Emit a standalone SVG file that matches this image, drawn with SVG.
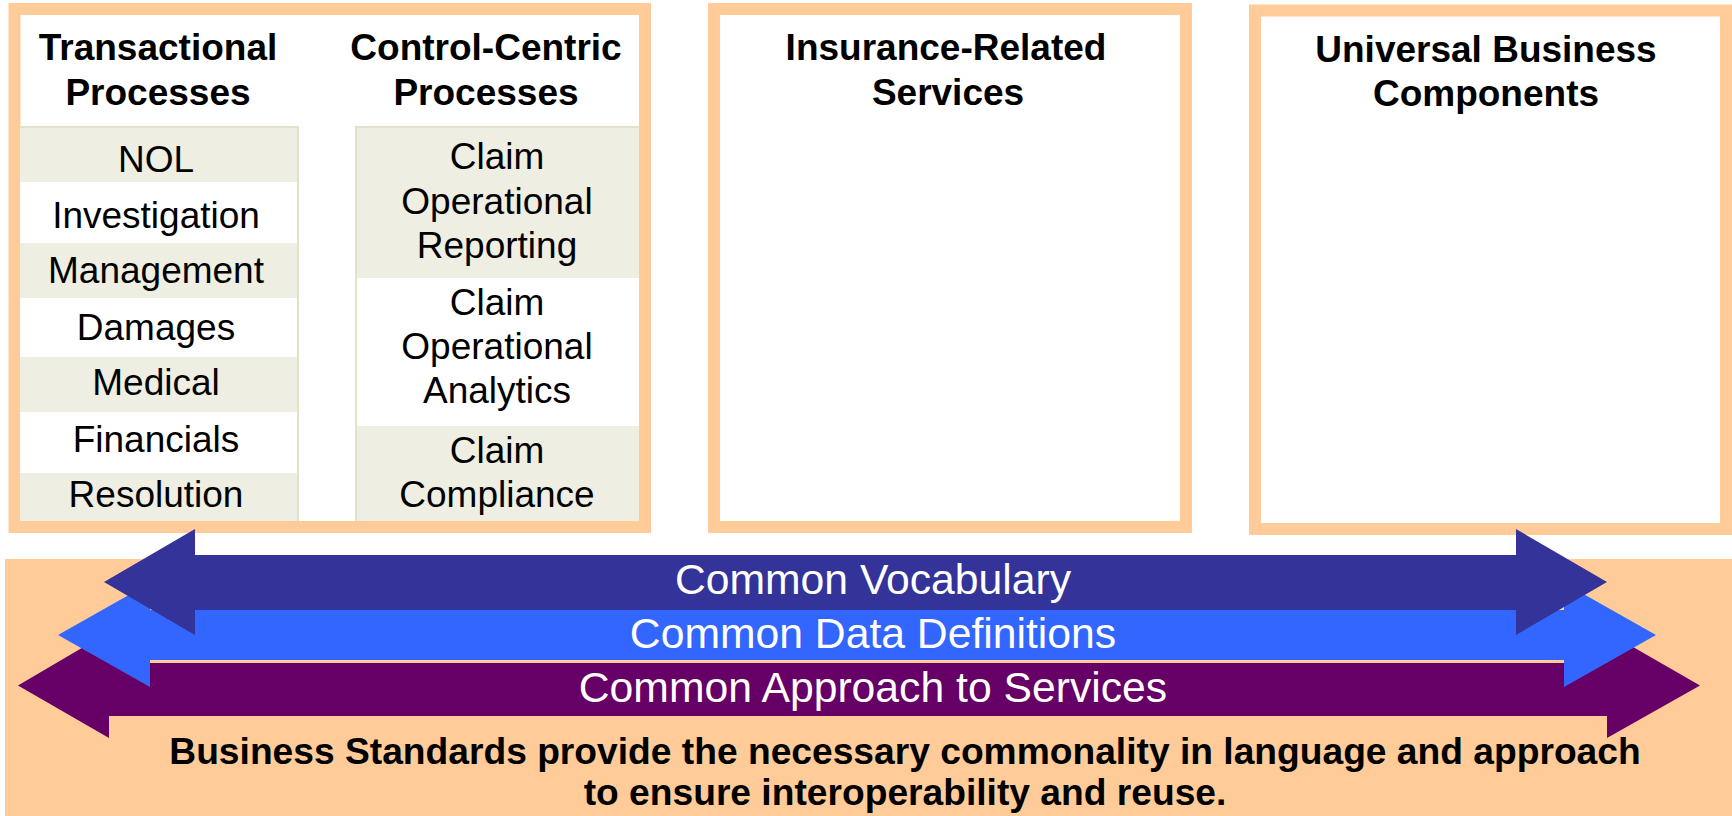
<svg xmlns="http://www.w3.org/2000/svg" width="1732" height="816" viewBox="0 0 1732 816">
<style>
.frame{fill:#FFFFFF;stroke:#FFCC99;stroke-width:12}
.shade{fill:#EEEEE2}
.plain{fill:#FFFFFF}
.edge{stroke:#E2E2CC;stroke-width:2;fill:none}
.hd{font-family:"Liberation Sans",Arial,sans-serif;font-weight:bold;font-size:37px;fill:#000;text-anchor:middle}
.cell{font-family:"Liberation Sans",Arial,sans-serif;font-size:37px;fill:#000;text-anchor:middle}
.band{font-family:"Liberation Sans",Arial,sans-serif;font-size:42.7px;fill:#FFFFFF;text-anchor:middle}
.foot{font-family:"Liberation Sans",Arial,sans-serif;font-weight:bold;font-size:37.2px;fill:#000;text-anchor:middle}
</style>
<rect width="1732" height="816" fill="#FFFFFF"/>
<rect id="standards-bg" x="5" y="559" width="1727" height="257" fill="#FFCC99"/>

<g id="box-processes">
<rect class="frame" x="14.5" y="9" width="630.5" height="518"/>
<g id="transactional">
<rect class="shade" x="20" y="126" width="279" height="56"/>
<rect class="plain" x="20" y="182" width="279" height="61"/>
<rect class="shade" x="20" y="243" width="279" height="55"/>
<rect class="plain" x="20" y="298" width="279" height="59"/>
<rect class="shade" x="20" y="357" width="279" height="55"/>
<rect class="plain" x="20" y="412" width="279" height="61"/>
<rect class="shade" x="20" y="473" width="279" height="48"/>
<path class="edge" d="M20 127 H299 M298 126 V521"/>
<text class="hd" x="158" y="60">Transactional</text>
<text class="hd" x="158" y="105">Processes</text>
<text class="cell" x="156" y="172">NOL</text>
<text class="cell" x="156" y="228">Investigation</text>
<text class="cell" x="156" y="283">Management</text>
<text class="cell" x="156" y="340">Damages</text>
<text class="cell" x="156" y="395">Medical</text>
<text class="cell" x="156" y="452">Financials</text>
<text class="cell" x="156" y="507">Resolution</text>
</g>
<g id="control-centric">
<rect class="shade" x="355" y="126" width="284" height="152"/>
<rect class="plain" x="355" y="278" width="284" height="148"/>
<rect class="shade" x="355" y="426" width="284" height="95"/>
<path class="edge" d="M355 127 H639 M356 126 V521"/>
<text class="hd" x="486" y="60">Control-Centric</text>
<text class="hd" x="486" y="105">Processes</text>
<text class="cell" x="497" y="169">Claim</text>
<text class="cell" x="497" y="214">Operational</text>
<text class="cell" x="497" y="258">Reporting</text>
<text class="cell" x="497" y="315">Claim</text>
<text class="cell" x="497" y="359">Operational</text>
<text class="cell" x="497" y="403">Analytics</text>
<text class="cell" x="497" y="463">Claim</text>
<text class="cell" x="497" y="507">Compliance</text>
</g>
</g>

<g id="box-insurance">
<rect class="frame" x="714" y="9" width="472" height="518"/>
<text class="hd" x="946" y="60">Insurance-Related</text>
<text class="hd" x="948" y="105">Services</text>
</g>

<g id="box-universal">
<rect class="frame" x="1255" y="10.5" width="471" height="518.5"/>
<text class="hd" x="1486" y="62">Universal Business</text>
<text class="hd" x="1486" y="106">Components</text>
</g>

<g id="connectors">
<polygon id="arrow-services" fill="#660066" points="18,685.5 109,632 109,663 1607,663 1607,632 1700,685.5 1607,738 1607,716 109,716 109,738"/>
<polygon id="arrow-data" fill="#3366FF" points="58,635 150,583 150,610 1564,610 1564,583 1656,635 1564,687 1564,660 150,660 150,687"/>
<polygon id="arrow-vocab" fill="#333399" points="104,582 195,529 195,555 1516,555 1516,529 1607,582 1516,635 1516,610 195,610 195,635"/>
<text class="band" x="873" y="594">Common Vocabulary</text>
<text class="band" x="873" y="648">Common Data Definitions</text>
<text class="band" x="873" y="702">Common Approach to Services</text>
</g>

<g id="footer">
<text class="foot" x="905" y="764">Business Standards provide the necessary commonality in language and approach</text>
<text class="foot" x="905" y="805">to ensure interoperability and reuse.</text>
</g>
</svg>
